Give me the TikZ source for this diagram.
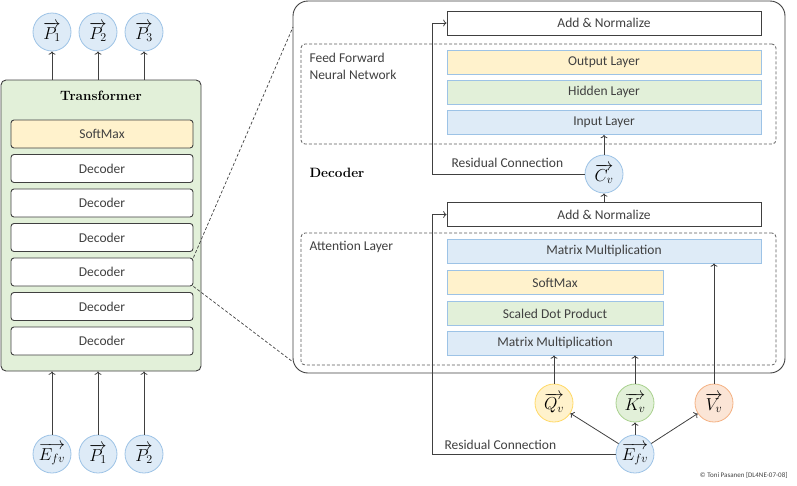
\documentclass[tikz,border=0pt]{standalone}
\usepackage{fontspec}
\newfontfamily\calib{Carlito}
\usetikzlibrary{arrows.meta}

\definecolor{lineg}{HTML}{404040}
\definecolor{bluef}{HTML}{DEEBF7}
\definecolor{blued}{HTML}{9DC3E6}
\definecolor{yellf}{HTML}{FFF2CC}
\definecolor{yelld}{HTML}{FFD966}
\definecolor{greenf}{HTML}{E2F0D9}
\definecolor{greend}{HTML}{A9D18E}
\definecolor{orangef}{HTML}{FBE5D6}
\definecolor{oranged}{HTML}{F4B183}

\tikzset{
	txt/.style={font=\calib\fontsize{13.5}{17}\selectfont, text=lineg},
	title/.style={font=\bfseries\fontsize{13.5}{16}\selectfont},
	dbox/.style={txt, draw=lineg, fill=white, rounded corners=3pt, line width=0.9pt, minimum width=182, minimum height=28, inner sep=0pt},
	layer/.style={txt, draw=blued, line width=0.8pt, minimum width=314, minimum height=24, inner sep=0pt},
	addnorm/.style={txt, draw=lineg, fill=white, line width=0.9pt, minimum width=314, minimum height=24, inner sep=0pt},
	group/.style={draw=lineg!85, dashed, dash pattern=on 3pt off 2pt, rounded corners=4pt, line width=0.8pt, inner sep=0pt},
	vec/.style={circle, draw=blued, fill=bluef, line width=0.8pt, minimum size=38, inner sep=0pt, font=\LARGE},
	arr/.style={->, draw=lineg, line width=0.8pt},
	zoomline/.style={draw=lineg, dashed, dash pattern=on 3pt off 2pt, line width=0.7pt}
}

\begin{document}
\begin{tikzpicture}[x=1pt,y=-1pt]
	\useasboundingbox (0,0) rectangle (797,485);
	% transformer stack
	\node[draw=lineg, fill=greenf, rounded corners=5pt, line width=0.9pt, minimum width=200, minimum height=291] (trans) at (101,225.5) {};
	\node[title] (transT) at (101,96) {Transformer};
	\node[dbox, fill=yellf] (smL) at (102,134) {SoftMax};
	\foreach \i/\y in {1/168.5,2/203,3/237.5,4/272,5/306.5,6/341}
		\node[dbox] (dec\i) at (102,\y) {Decoder};
	\node[vec] (out1) at (52,32) {$\overrightarrow{P_1}$};
	\node[vec] (out2) at (98,32) {$\overrightarrow{P_2}$};
	\node[vec] (out3) at (144,32) {$\overrightarrow{P_3}$};
	\node[vec] (in1) at (52,454) {$\overrightarrow{E_{fv}}$};
	\node[vec] (in2) at (98,454) {$\overrightarrow{P_1}$};
	\node[vec] (in3) at (144,454) {$\overrightarrow{P_2}$};
	\foreach \n in {out1,out2,out3}
		\draw[arr] (\n |- trans.north) -- (\n);
	\foreach \n in {in1,in2,in3}
		\draw[arr] (\n) -- (\n |- trans.south);
	
	% decoder in detail
	\node[draw=lineg, fill=white, rounded corners=15pt, line width=0.9pt, minimum width=492, minimum height=372] (decbox) at (539,187) {};
	\coordinate (zT) at (293,27);
	\coordinate (zB) at (293,362);
	\draw[zoomline] (dec4.north east) -- (zT);
	\draw[zoomline] (dec4.south east) -- (zB);
	\node[title, anchor=west] (decT) at (306,173) {Decoder};
	
	% feed forward part
	\node[group, minimum width=475, minimum height=100] (ffn) at (538.5,94) {};
	\node[txt, anchor=west, align=left] (ffnT) at (306,66.5) {Feed Forward\\Neural Network};
	\node[addnorm] (addT) at (604,23) {Add \& Normalize};
	\node[layer, fill=yellf] (outL) at (604,62) {Output Layer};
	\node[layer, fill=greenf] (hidL) at (604,92) {Hidden Layer};
	\node[layer, fill=bluef] (inL) at (604,122.5) {Input Layer};
	\node[vec] (cv) at (604,174) {$\overrightarrow{C_v}$};
	\draw[arr] (cv) -- (inL);
	\coordinate (resT) at (432,174);
	\draw[arr] (cv) -- (resT) |- (addT.west);
	\node[txt, anchor=west] (resTT) at (448,163) {Residual Connection};
	
	% attention part
	\node[addnorm] (addB) at (604,214.5) {Add \& Normalize};
	\draw[arr] (addB) -- (cv);
	\node[group, minimum width=475, minimum height=132] (att) at (538.5,299) {};
	\node[txt, anchor=west] (attT) at (306,247) {Attention Layer};
	\node[layer, fill=bluef] (mmT) at (604,251) {Matrix Multiplication};
	\node[layer, fill=yellf, minimum width=216] (smR) at (555,282.5) {SoftMax};
	\node[layer, fill=greenf, minimum width=216] (sdp) at (555,313.5) {Scaled Dot Product};
	\node[layer, fill=bluef, minimum width=216] (mmB) at (555,343) {Matrix Multiplication};
	
	\node[vec, draw=yelld, fill=yellf] (q) at (554,403) {$\overrightarrow{Q_v}$};
	\node[vec, draw=greend, fill=greenf] (k) at (635,403) {$\overrightarrow{K_v}$};
	\node[vec, draw=oranged, fill=orangef] (v) at (714,403) {$\overrightarrow{V_v}$};
	\node[vec] (efv) at (635,454) {$\overrightarrow{E_{fv}}$};
	\draw[arr] (q) -- (q |- mmB.south);
	\draw[arr] (k) -- (k |- mmB.south);
	\draw[arr] (v) -- (v |- mmT.south);
	\foreach \n in {q,k,v}
		\draw[arr] (efv) -- (\n);
	\coordinate (resB) at (432,454);
	\draw[arr] (efv) -- (resB) |- (addB.west);
	\node[txt, anchor=west] (resBT) at (441,445) {Residual Connection};
	
	\node[anchor=east, text=lineg, font=\calib\fontsize{7}{8}\selectfont] (copy) at (791,475) {© Toni Pasanen [DL4NE-07-08]};
\end{tikzpicture}
\end{document}
